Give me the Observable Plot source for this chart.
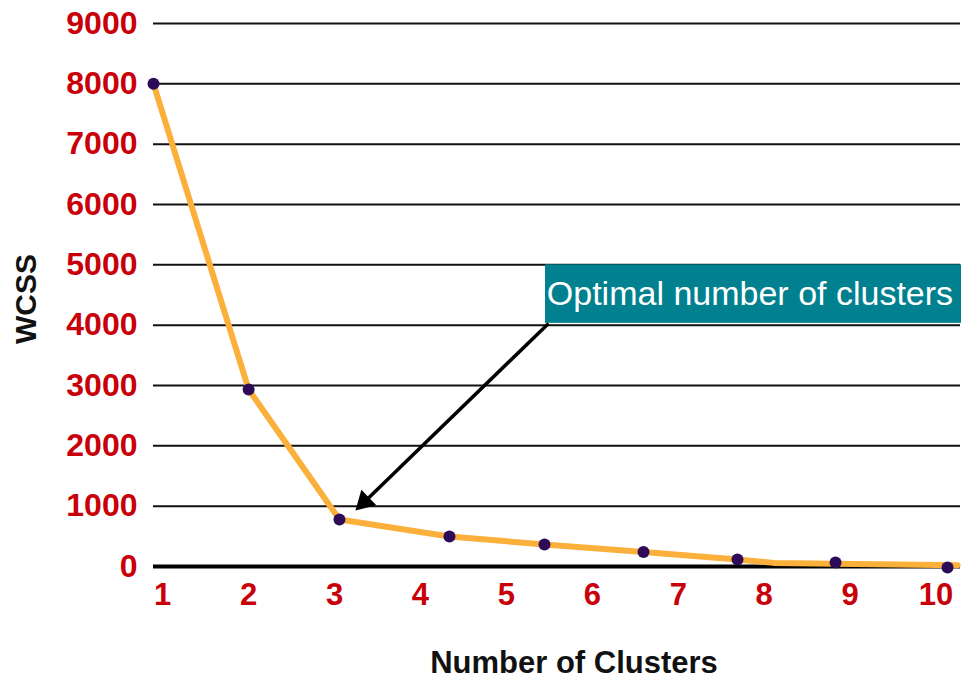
<!DOCTYPE html>
<html>
<head>
<meta charset="utf-8">
<script src="https://cdn.jsdelivr.net/npm/d3@7"></script>
<script src="https://cdn.jsdelivr.net/npm/@observablehq/plot@0.6"></script>
<style>
  html, body { margin: 0; padding: 0; background: white; }
</style>
</head>
<body>
<div id="chart"></div>
<script>
// Data
const pointX = [0.893, 2.0, 3.057, 4.337, 5.443, 6.595, 7.689, 8.83, 10.133];
const pointY = [8000, 2934, 779, 497, 365, 240, 116, 66, -17];

const lineX = [0.893, 2.0, 3.057, 4.337, 5.443, 6.595, 7.689, 8.11, 10.25];
const lineY = [8000, 2934, 779, 497, 365, 240, 116, 60, 20];

const xTicks = [1, 2, 3, 4, 5, 6, 7, 8, 9, 10];
const yTicks = [0, 1000, 2000, 3000, 4000, 5000, 6000, 7000, 8000, 9000];
const gridTicks = [1000, 2000, 3000, 4000, 5000, 6000, 7000, 8000, 9000];

const xLabel = "Number of Clusters";
const yLabel = "WCSS";

// annotation
const noteText = ["Optimal number of clusters"];
const noteBoxX = [5.455, 10.296];
const noteBoxY = [4030, 5000];
const noteTextX = [5.47];
const noteTextY = [4508];
const arrowFrom = [5.49, 4028];
const arrowHead = [3.347, 1071];

const points = pointX.map((x, i) => ({x, y: pointY[i]}));
const linePts = lineX.map((x, i) => ({x, y: lineY[i]}));

const chart = Plot.plot({
  width: 971,
  height: 680,
  marginLeft: 153,
  marginRight: 11,
  marginTop: 23,
  marginBottom: 114,
  x: {domain: [0.893, 10.284]},
  y: {domain: [0, 9000]},
  style: {fontFamily: "'Liberation Sans', Arial, sans-serif", background: "white"},
  marks: [
    Plot.ruleY(gridTicks, {stroke: "#111", strokeWidth: 2}),
    Plot.ruleY([0], {stroke: "#000", strokeWidth: 4}),
    Plot.rect([0], {x1: noteBoxX[0], x2: noteBoxX[1], y1: noteBoxY[0], y2: noteBoxY[1], fill: "#01818f"}),
    Plot.text(noteText, {x: noteTextX, y: noteTextY, text: d => d, textAnchor: "start", fill: "white", fontSize: 34, lineAnchor: "middle"}),
    Plot.link([0], {x1: arrowFrom[0], y1: arrowFrom[1], x2: arrowHead[0], y2: arrowHead[1], stroke: "black", strokeWidth: 3.5}),
    Plot.dot([0], {x: arrowHead[0], y: arrowHead[1], symbol: "triangle", r: 8, rotate: 226, fill: "black", stroke: "none"}),
    Plot.line(linePts, {x: "x", y: "y", stroke: "#fbb03b", strokeWidth: 6, strokeLinejoin: "round", strokeLinecap: "round"}),
    Plot.dot(points, {x: "x", y: "y", r: 6, fill: "#2d0b59", stroke: "none"}),
    Plot.axisY(yTicks, {tickSize: 0, tickPadding: 16, tickFormat: d => String(d), fontSize: 32, fontWeight: "bold", fill: "#c8000a", label: null}),
    Plot.axisX(xTicks, {tickSize: 0, tickPadding: 16, tickFormat: d => String(d), fontSize: 31, fontWeight: "bold", fill: "#c8000a", label: null}),
    Plot.text([yLabel], {frameAnchor: "left", textAnchor: "middle", dx: -127, dy: 4, rotate: -90, fontSize: 30, fontWeight: "bold", fill: "#111"}),
    Plot.text([xLabel], {frameAnchor: "bottom", textAnchor: "middle", dx: 17, dy: 97, fontSize: 31, fontWeight: "bold", fill: "#111", lineAnchor: "middle"})
  ]
});
document.getElementById("chart").appendChild(chart);
</script>
</body>
</html>
